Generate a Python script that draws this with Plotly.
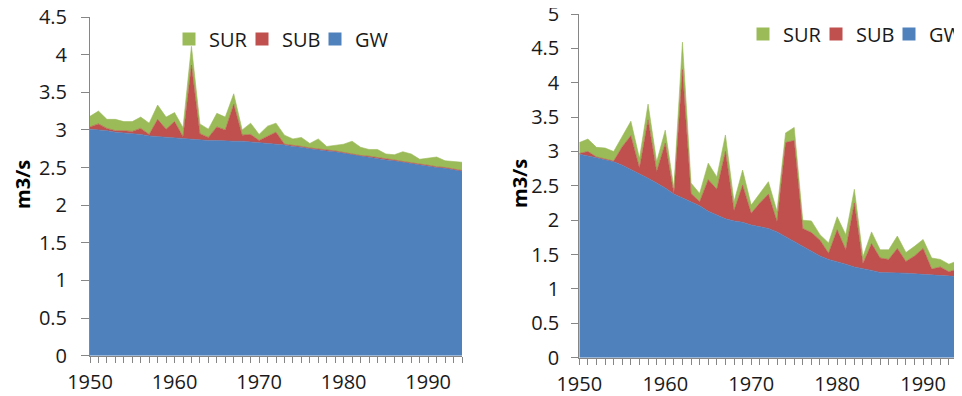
import plotly.graph_objects as go

years = list(range(1950, 1995))

# Left panel
left_gw = [3.01, 3.00, 2.99, 2.97, 2.96, 2.95, 2.94, 2.92, 2.91, 2.90,
           2.89, 2.88, 2.87, 2.87, 2.86, 2.86, 2.85, 2.85, 2.85, 2.84,
           2.83, 2.82, 2.81, 2.80, 2.78, 2.77, 2.75, 2.74, 2.72, 2.71,
           2.69, 2.67, 2.65, 2.64, 2.62, 2.60, 2.59, 2.57, 2.55, 2.54,
           2.52, 2.50, 2.49, 2.47, 2.45]
left_sub = [0.03, 0.08, 0.03, 0.02, 0.03, 0.03, 0.08, 0.02, 0.23, 0.11,
            0.22, 0.03, 0.99, 0.08, 0.04, 0.18, 0.15, 0.49, 0.08, 0.10,
            0.03, 0.09, 0.16, 0.01, 0.01, 0.01, 0.01, 0.01, 0.01, 0.01,
            0.01, 0.01, 0.01, 0.01, 0.01, 0.01, 0.01, 0.01, 0.01, 0.01,
            0.01, 0.01, 0.01, 0.01, 0.01]
left_sur = [0.14, 0.17, 0.12, 0.15, 0.12, 0.13, 0.15, 0.15, 0.19, 0.16,
            0.12, 0.12, 0.25, 0.13, 0.11, 0.18, 0.17, 0.14, 0.07, 0.15,
            0.08, 0.14, 0.12, 0.12, 0.09, 0.12, 0.06, 0.13, 0.05, 0.08,
            0.11, 0.17, 0.11, 0.09, 0.11, 0.07, 0.07, 0.13, 0.12, 0.06,
            0.09, 0.13, 0.09, 0.10, 0.11]

# Right panel
right_gw = [2.96, 2.94, 2.91, 2.88, 2.85, 2.80, 2.74, 2.68, 2.61, 2.54,
            2.47, 2.38, 2.32, 2.26, 2.21, 2.13, 2.08, 2.02, 1.99, 1.97,
            1.93, 1.91, 1.88, 1.83, 1.76, 1.69, 1.62, 1.54, 1.48, 1.43,
            1.40, 1.36, 1.32, 1.30, 1.27, 1.24, 1.24, 1.23, 1.23, 1.22,
            1.21, 1.21, 1.20, 1.19, 1.18]
right_sub = [0.01, 0.06, 0.01, 0.01, 0.01, 0.27, 0.49, 0.08, 0.85, 0.17,
             0.65, 0.01, 1.87, 0.13, 0.06, 0.46, 0.37, 0.98, 0.15, 0.54,
             0.17, 0.34, 0.50, 0.15, 1.37, 1.47, 0.26, 0.28, 0.23, 0.09,
             0.46, 0.21, 0.93, 0.07, 0.39, 0.21, 0.19, 0.36, 0.17, 0.26,
             0.38, 0.08, 0.12, 0.06, 0.11]
right_sur = [0.16, 0.18, 0.14, 0.16, 0.14, 0.16, 0.21, 0.14, 0.23, 0.14,
             0.19, 0.08, 0.40, 0.15, 0.12, 0.24, 0.18, 0.24, 0.13, 0.22,
             0.12, 0.14, 0.18, 0.15, 0.14, 0.19, 0.12, 0.17, 0.08, 0.15,
             0.19, 0.22, 0.20, 0.10, 0.17, 0.12, 0.14, 0.18, 0.13, 0.14,
             0.13, 0.16, 0.11, 0.11, 0.12]

series_names = ["GW", "SUB", "SUR"]
legend_order = ["SUR", "SUB", "GW"]
colors = {"GW": "#4F81BD", "SUB": "#C0504D", "SUR": "#9BBB59"}

x_ticks = [1950, 1960, 1970, 1980, 1990]
left_yticks = [0, 0.5, 1, 1.5, 2, 2.5, 3, 3.5, 4, 4.5]
right_yticks = [0, 0.5, 1, 1.5, 2, 2.5, 3, 3.5, 4, 4.5, 5]

FONT = "Open Sans"
FS = 20
W, H = 962, 396
OFF = 8  # page body offset seen in the screenshot

fig = go.Figure()

panels = [
    ("x", "y", "legend", "L", {"GW": left_gw, "SUB": left_sub, "SUR": left_sur}),
    ("x2", "y2", "legend2", "R", {"GW": right_gw, "SUB": right_sub, "SUR": right_sur}),
]
for xa, ya, lg, grp, data in panels:
    for name in series_names:
        fig.add_trace(go.Scatter(
            x=years, y=data[name], xaxis=xa, yaxis=ya,
            stackgroup=grp, mode="lines",
            line=dict(width=0.6, color=colors[name]),
            fillcolor=colors[name], name=name, showlegend=False,
            hoverinfo="x+y+name",
        ))
    for name in legend_order:
        fig.add_trace(go.Scatter(
            x=[None], y=[None], xaxis=xa, yaxis=ya, mode="markers",
            marker=dict(symbol="square", size=13, color=colors[name]),
            name=name, legend=lg, showlegend=True,
        ))

def fx(p):
    return (p - OFF) / W

def fy(p):
    return (H - (p - OFF)) / H

axis_common = dict(
    showgrid=False, zeroline=False, showline=True, linecolor="#868686",
    linewidth=1, ticks="outside", tickcolor="#868686",
    automargin=False, ticklabeloverflow="allow",
    tickfont=dict(family=FONT, size=FS, color="#1a1a1a"),
)
minor_x = dict(dtick=1, tick0=1950, ticks="outside", ticklen=6, tickcolor="#868686")

legend_common = dict(
    orientation="h", xanchor="left", yanchor="middle", traceorder="normal",
    font=dict(family=FONT, size=FS, color="#1a1a1a"), bgcolor="rgba(0,0,0,0)",
    itemwidth=30, tracegroupgap=0, entrywidthmode="pixels",
)

fig.update_layout(
    width=W, height=H,
    margin=dict(l=0, r=0, t=0, b=0, autoexpand=False),
    paper_bgcolor="white", plot_bgcolor="white",
    font=dict(family=FONT, size=FS, color="#1a1a1a"),
    xaxis=dict(domain=[fx(90), fx(462)], range=[1950, 1994],
               tickvals=x_ticks, anchor="y", ticklen=6, minor=minor_x,
               ticklabelstandoff=2, **axis_common),
    yaxis=dict(domain=[fy(355.7), fy(17)], range=[0, 4.5],
               tickvals=left_yticks, anchor="x", ticklen=8,
               ticklabelstandoff=10, **axis_common),
    xaxis2=dict(domain=[fx(579.3), fx(957.5)], range=[1950, 1994],
                tickvals=x_ticks, anchor="y2", ticklen=6, minor=minor_x,
                ticklabelstandoff=2, **axis_common),
    yaxis2=dict(domain=[fy(357.7), fy(14)], range=[0, 5],
                tickvals=right_yticks, anchor="x2", ticklen=7,
                ticklabelstandoff=8, **axis_common),
    legend=dict(x=fx(169), y=fy(39), entrywidth=28, **legend_common),
    legend2=dict(x=fx(743), y=fy(34), entrywidth=28, **legend_common),
    annotations=[
        dict(text="<b>m3/s</b>", x=fx(22), y=fy(185), xref="paper", yref="paper",
             xanchor="center", yanchor="middle",
             textangle=-90, showarrow=False, font=dict(family=FONT, size=FS, color="#000")),
        dict(text="<b>m3/s</b>", x=fx(519), y=fy(183), xref="paper", yref="paper",
             xanchor="center", yanchor="middle",
             textangle=-90, showarrow=False, font=dict(family=FONT, size=FS, color="#000")),
    ],
)

fig.write_html("out.html")
